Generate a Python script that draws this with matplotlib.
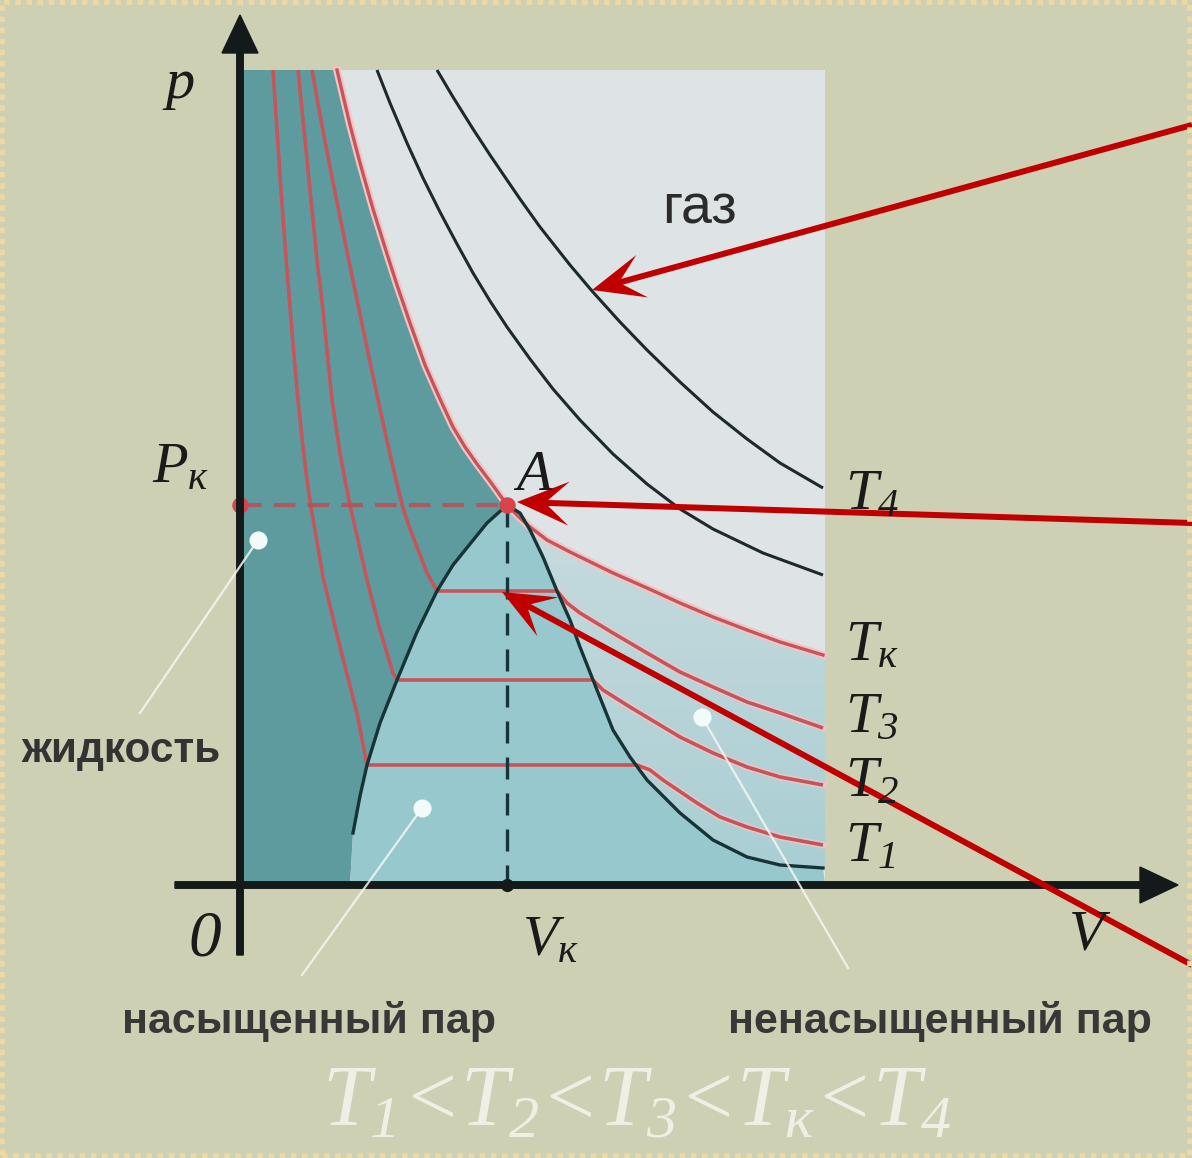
import numpy as np
import matplotlib
matplotlib.use('Agg')
import matplotlib.pyplot as plt
from matplotlib.patches import FancyArrow, Rectangle, Polygon
from matplotlib.colors import LinearSegmentedColormap

plt.rcParams['mathtext.fontset'] = 'custom'
plt.rcParams['mathtext.rm'] = 'Liberation Serif:italic'
plt.rcParams['mathtext.it'] = 'Liberation Serif:italic'
plt.rcParams['mathtext.default'] = 'it'

# isotherms (V, p), origin at the crossing of the axes
tk_v = [0.97, 1.10, 1.20, 1.33, 1.47, 1.57, 1.70, 1.85, 2.00, 2.13, 2.25, 2.37, 2.52, 2.67,
        2.80, 2.90, 3.07, 3.30, 3.73, 4.07, 4.40, 4.73, 5.07, 5.40, 5.83]
tk_p = [8.15, 7.60, 7.22, 6.76, 6.31, 6.00, 5.62, 5.20, 4.86, 4.58, 4.38, 4.21, 4.01, 3.80,
        3.67, 3.58, 3.45, 3.33, 3.12, 2.97, 2.82, 2.68, 2.55, 2.43, 2.30]

t4_v = [1.97, 2.13, 2.33, 2.50, 2.67, 2.80, 3.00, 3.30, 3.52, 3.80, 4.07, 4.40, 4.73, 5.07,
        5.40, 5.83]
t4_p = [8.15, 7.88, 7.56, 7.30, 7.05, 6.86, 6.58, 6.20, 5.94, 5.63, 5.35, 5.03, 4.73, 4.46,
        4.22, 3.97]

t5_v = [1.37, 1.50, 1.67, 1.83, 2.00, 2.17, 2.33, 2.50, 2.67, 2.90, 3.13, 3.40, 3.73, 4.07,
        4.40, 4.73, 5.23, 5.83]
t5_p = [8.15, 7.82, 7.42, 7.07, 6.73, 6.41, 6.12, 5.84, 5.58, 5.26, 4.96, 4.65, 4.31, 4.01,
        3.76, 3.56, 3.32, 3.10]

t3_v = [0.72, 0.80, 0.90, 1.00, 1.10, 1.20, 1.30, 1.40, 1.50, 1.57, 1.63, 1.70, 1.77, 1.87,
        1.97, 3.17, 3.27, 3.40, 3.73, 4.07, 4.40, 4.73, 5.07, 5.40, 5.83]
t3_p = [8.15, 7.70, 7.18, 6.68, 6.19, 5.71, 5.23, 4.76, 4.31, 4.01, 3.77, 3.56, 3.38, 3.12,
        2.94, 2.94, 2.82, 2.72, 2.52, 2.32, 2.13, 1.98, 1.83, 1.72, 1.57]

t2_v = [0.58, 0.62, 0.67, 0.72, 0.77, 0.83, 0.88, 0.92, 1.00, 1.05, 1.10, 1.27, 1.40, 1.53,
        1.57, 3.53, 3.63, 3.90, 4.40, 4.73, 5.07, 5.40, 5.83]
t2_p = [8.15, 7.75, 7.25, 6.75, 6.25, 5.75, 5.25, 4.85, 4.32, 4.05, 3.80, 3.05, 2.55, 2.12,
        2.05, 2.05, 1.95, 1.78, 1.48, 1.32, 1.18, 1.08, 1.00]

t1_v = [0.33, 0.37, 0.41, 0.45, 0.50, 0.54, 0.58, 0.63, 0.67, 0.71, 0.83, 1.00, 1.17, 1.27,
        3.97, 4.10, 4.23, 4.57, 4.80, 5.07, 5.40, 5.83]
t1_p = [8.15, 7.55, 6.95, 6.40, 5.78, 5.30, 4.85, 4.38, 4.05, 3.78, 3.08, 2.38, 1.72, 1.20,
        1.20, 1.15, 1.05, 0.82, 0.68, 0.58, 0.48, 0.40]

# saturation curve
bin_v = [1.13, 1.20, 1.27, 1.40, 1.57, 1.77, 1.97, 2.13, 2.30, 2.47, 2.67, 2.80, 2.90, 3.03,
         3.17, 3.30, 3.40, 3.57, 3.73, 3.90, 4.07, 4.40, 4.73, 5.07, 5.40, 5.83]
bin_p = [0.52, 0.89, 1.20, 1.62, 2.05, 2.53, 2.94, 3.20, 3.41, 3.62, 3.80, 3.72, 3.55, 3.28,
         2.94, 2.65, 2.38, 1.95, 1.55, 1.28, 1.05, 0.72, 0.45, 0.28, 0.20, 0.17]

v_k, p_k = 2.67, 3.80
v_max, p_max = 5.85, 8.15
v_liq_bottom = 1.10

t_labels = ['$T_4$', '$T_к$', '$T_3$', '$T_2$', '$T_1$']
t_label_p = [3.76, 2.25, 1.53, 0.89, 0.24]

region_names = ['газ', 'жидкость', 'насыщенный пар', 'ненасыщенный пар']
pointer_dots = [(0.18, 3.45), (1.82, 0.77), (4.62, 1.68)]
pointer_ends = [(-1.00, 1.72), (0.62, -0.90), (6.08, -0.83)]

# red arrows: (start, tip)
arrows = [((9.52, 7.60), (3.52, 5.95)),
          ((9.52, 3.62), (2.77, 3.83)),
          ((9.52, -0.80), (2.62, 2.93))]

bg = '#ced0b4'
gas_c = '#dee3e6'
liq_c = '#5e9b9f'
sat_c = '#97c8ce'
red_line = '#c4555b'
halo = '#f3c4c3'

fig = plt.figure(figsize=(11.92, 11.58), dpi=100, facecolor=bg)
ax = fig.add_axes([0, 0, 1, 1])
ax.set_xlim(-2.40, 9.52)
ax.set_ylim(-2.73, 8.85)
ax.set_facecolor(bg)
ax.axis('off')

# dotted frame of the slide
fig.patches.append(Rectangle((0.002, 0.002), 0.996, 0.996, transform=fig.transFigure,
                             fill=False, edgecolor='#ecd9a4', lw=4, linestyle=(0, (1, 1))))

# regions
ax.add_patch(Rectangle((0, 0), v_max, p_max, facecolor=gas_c, edgecolor='none', zorder=1))

i_a = tk_v.index(v_k)
j_a = bin_v.index(v_k)
liq_poly = ([(0, 0), (0, p_max)] + list(zip(tk_v[:i_a + 1], tk_p[:i_a + 1]))
            + list(zip(bin_v[:j_a + 1], bin_p[:j_a + 1]))[::-1] + [(v_liq_bottom, 0)])
ax.add_patch(Polygon(liq_poly, closed=True, facecolor=liq_c, edgecolor='none', zorder=2))

sat_poly = list(zip(bin_v, bin_p)) + [(v_max, 0), (v_liq_bottom, 0)]
ax.add_patch(Polygon(sat_poly, closed=True, facecolor=sat_c, edgecolor='none', zorder=2))

unsat_poly = (list(zip(tk_v[i_a:], tk_p[i_a:])) + [(v_max, tk_p[-1]), (v_max, bin_p[-1])]
              + list(zip(bin_v[j_a:], bin_p[j_a:]))[::-1])
unsat = Polygon(unsat_poly, closed=True, facecolor='none', edgecolor='none', zorder=2)
ax.add_patch(unsat)
grad = ax.imshow(np.linspace(1, 0, 64).reshape(-1, 1), extent=(v_k, v_max, 0, p_k),
                 cmap=LinearSegmentedColormap.from_list('u', ['#a8ced3', '#c8dbde']),
                 aspect='auto', zorder=2, origin='upper')
grad.set_clip_path(unsat)

# gas isotherms
for vv, pp in [(t4_v, t4_p), (t5_v, t5_p)]:
    ax.plot(vv, pp, color='#1c2a2c', lw=2.2, zorder=4, solid_capstyle='butt',
            solid_joinstyle='round')

# red isotherms; pale halo on the vapour side
for vv, pp in [(t3_v, t3_p), (t2_v, t2_p), (t1_v, t1_p)]:
    k = max(i for i in range(1, len(pp)) if pp[i] == pp[i - 1])
    ax.plot(vv[k:], pp[k:], color=halo, lw=5.0, alpha=0.8, zorder=3)
    ax.plot(vv, pp, color=red_line, lw=2.6, zorder=4, solid_capstyle='butt',
            solid_joinstyle='round')
ax.plot(tk_v, tk_p, color=halo, lw=5.5, zorder=4, solid_joinstyle='round')
ax.plot(tk_v, tk_p, color=red_line, lw=2.4, zorder=4, solid_joinstyle='round')

# saturation curve
ax.plot(bin_v, bin_p, color='#163336', lw=2.4, zorder=5, solid_joinstyle='round')

# critical point
ax.plot([0, v_k], [p_k, p_k], color='#bb4f55', lw=3, alpha=0.85,
        linestyle=(0, (5.2, 2.9)), zorder=5)
ax.plot([v_k, v_k], [p_k, 0], color='#173538', lw=2.4, linestyle=(0, (6.6, 4.2)), zorder=5)
ax.scatter([0, v_k], [p_k, p_k], s=140, color='#d6454b', zorder=6, linewidths=0)
ax.scatter([v_k], [0], s=90, color='#141a1a', zorder=9, linewidths=0)

# axes
ax.add_patch(FancyArrow(0, -0.70, 0, 9.40, width=0.065, head_width=0.36, head_length=0.38,
                        length_includes_head=True, color='#141a1a', zorder=8))
ax.add_patch(FancyArrow(-0.65, 0, 10.03, 0, width=0.065, head_width=0.36, head_length=0.38,
                        length_includes_head=True, color='#141a1a', zorder=8))

# pointers for region names
for (x0, y0), (x1, y1) in zip(pointer_dots, pointer_ends):
    ax.plot([x0, x1], [y0, y1], color='#f4f7f2', lw=1.6, alpha=0.85, zorder=9)
    ax.scatter([x0], [y0], s=170, color='#f2fafa', zorder=9, linewidths=0)

# red arrows
for (xs, ys), (xt, yt) in arrows:
    ax.add_patch(FancyArrow(xs, ys, xt - xs, yt - ys, width=0.06, head_width=0.44,
                            head_length=0.52, overhang=0.4, length_includes_head=True,
                            color='#c00000', zorder=10, lw=0))

# labels
serif = dict(color='#1a1a1a', fontsize=42, zorder=11)
ax.text(-0.62, 7.87, '$p$', ha='center', va='baseline', **serif)
ax.text(-0.88, 4.03, '$P_к$', ha='left', va='baseline', **serif)
ax.text(2.73, 3.95, '$A$', ha='left', va='baseline', **serif)
ax.text(-0.35, -0.70, '$0$', ha='center', va='baseline', color='#1a1a1a', fontsize=47,
        zorder=11)
ax.text(2.82, -0.70, '$V_к$', ha='left', va='baseline', **serif)
ax.text(8.50, -0.65, '$V$', ha='center', va='baseline', **serif)
for lab, pp in zip(t_labels, t_label_p):
    ax.text(6.05, pp, lab, ha='left', va='baseline', **serif)

ax.text(3.97, -2.40, '$T_1$<$T_2$<$T_3$<$T_к$<$T_4$', ha='center', va='baseline',
        family='Liberation Serif', style='italic', color='#f4f3ec', alpha=0.9,
        fontsize=62, zorder=11)

ax.text(4.60, 6.75, region_names[0], ha='center', va='center', fontsize=40,
        family='Liberation Sans', color='#2b2b2b', zorder=11)
ax.text(-1.19, 1.34, region_names[1], ha='center', va='center', fontsize=30.5,
        family='Liberation Sans', weight='bold', color='#333333', zorder=11)
ax.text(0.69, -1.37, region_names[2], ha='center', va='center', fontsize=31,
        family='Liberation Sans', weight='bold', color='#383838', zorder=11)
ax.text(7.00, -1.37, region_names[3], ha='center', va='center', fontsize=31,
        family='Liberation Sans', weight='bold', color='#383838', zorder=11)

fig.savefig('out.png', dpi=100, facecolor=bg)
